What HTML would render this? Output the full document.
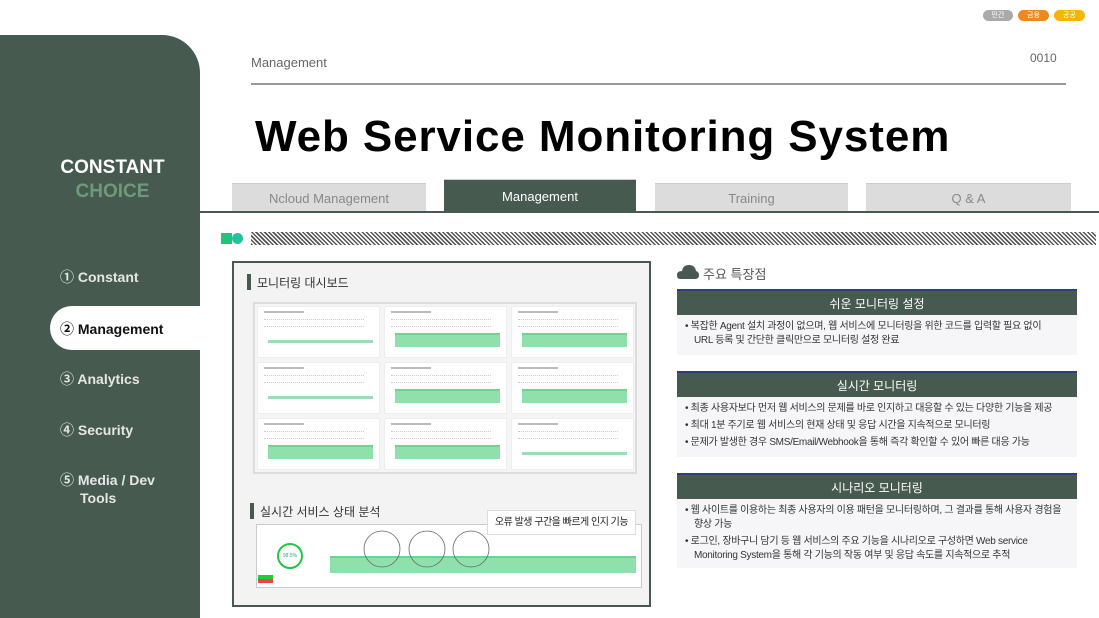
<!DOCTYPE html>
<html><head><meta charset="utf-8"><style>
*{margin:0;padding:0;box-sizing:border-box}
body{width:1099px;height:618px;position:relative;overflow:hidden;background:#fff;font-family:"Liberation Sans","Noto Sans CJK KR",sans-serif}
.a{position:absolute}
.side{left:0;top:35px;width:200px;height:583px;background:#465a50;border-top-right-radius:38px}
.nav{left:60px;color:#e6e6e6;font-size:14px;font-weight:bold}
.tab{top:183px;height:29px;background:#dcdcdc;color:#888;font-size:13px;text-align:center;line-height:30px;border-top:1px solid #ccc}
.hb{left:677px;width:400px;height:26px;background:#465a50;color:#fff;font-size:12px;text-align:center;line-height:26px;border-top:2px solid #2d3f7a}
.bd{left:677px;width:400px;background:#f6f6f9;font-size:10px;color:#333;padding:5px 4px 0 8px;line-height:14px;letter-spacing:-0.3px;white-space:nowrap}
.bd div{padding-left:9px;text-indent:-9px;margin-bottom:3px}
.card{background:#fff;width:123px;height:52px;border:1px solid #eee}
.ch{position:absolute;left:10px;right:6px;top:26px;height:14px;background:#8fe0ab;border-top:2px solid #6cd48e}
.ln{position:absolute;left:10px;right:6px;top:33px;height:3px;background:#9fdcb5}
.ct{position:absolute;left:6px;top:4px;width:40px;height:2px;background:#bbb}
.cr{position:absolute;left:6px;top:12px;width:100px;height:8px;border-top:1px dotted #ccc;border-bottom:1px dotted #ccc}
</style></head><body>
<div class="a" style="left:983px;top:10px;width:30px;height:11px;border-radius:6px;background:#aaa;color:#fff;font-size:7px;text-align:center;line-height:11px">민간</div>
<div class="a" style="left:1018px;top:10px;width:31px;height:11px;border-radius:6px;background:#ee8a1c;color:#fff;font-size:7px;text-align:center;line-height:11px">금융</div>
<div class="a" style="left:1054px;top:10px;width:31px;height:11px;border-radius:6px;background:#f7b500;color:#fff;font-size:7px;text-align:center;line-height:11px">공공</div>

<div class="a side"></div>
<div class="a" style="left:0;top:157px;width:225px;text-align:center;color:#fff;font-size:19px;font-weight:bold">CONSTANT</div>
<div class="a" style="left:0;top:181px;width:225px;text-align:center;color:#6f9a7a;font-size:19px;font-weight:bold">CHOICE</div>
<div class="a nav" style="top:267px">① Constant</div>
<div class="a" style="left:50px;top:306px;width:150px;height:44px;background:#fff;border-radius:22px 0 0 22px"></div>
<div class="a nav" style="top:319px;color:#111">② Management</div>
<div class="a nav" style="top:369px">③ Analytics</div>
<div class="a nav" style="top:420px">④ Security</div>
<div class="a nav" style="top:470px">⑤ Media / Dev<br><span style="padding-left:20px">Tools</span></div>

<div class="a" style="left:251px;top:55px;font-size:13px;color:#666">Management</div>
<div class="a" style="left:1030px;top:51px;font-size:12px;color:#666">0010</div>
<div class="a" style="left:251px;top:83px;width:815px;height:2px;background:#999"></div>
<div class="a" style="left:255px;top:112px;font-size:44px;font-weight:bold;color:#000;letter-spacing:0.9px;white-space:nowrap">Web Service Monitoring System</div>

<div class="a tab" style="left:232px;width:194px">Ncloud Management</div>
<div class="a tab" style="left:444px;width:192px;top:179px;height:33px;background:#465a50;color:#fff;line-height:33px">Management</div>
<div class="a tab" style="left:655px;width:193px">Training</div>
<div class="a tab" style="left:866px;width:205px">Q &amp; A</div>
<div class="a" style="left:200px;top:211px;width:899px;height:2px;background:#465a50"></div>

<div class="a" style="left:221px;top:233px;width:11px;height:11px;background:#22c47a"></div>
<div class="a" style="left:232px;top:233px;width:11px;height:11px;border-radius:50%;background:#22c4a0"></div>
<div class="a" style="left:251px;top:232px;width:845px;height:13px;background:repeating-linear-gradient(45deg,#555 0 1.5px,#fff 1.5px 3px)"></div>

<div class="a" style="left:232px;top:261px;width:419px;height:346px;border:2px solid #465a50;background:#f3f3f3"></div>
<div class="a" style="left:247px;top:274px;width:4px;height:16px;background:#465a50"></div>
<div class="a" style="left:257px;top:274px;font-size:12px;color:#333">모니터링 대시보드</div>
<div class="a" style="left:253px;top:302px;width:384px;height:172px;border:2px solid #ddd;background:#f5f5f5"></div>

<div class="a card" style="left:257px;top:306px"><div class="ct"></div><div class="cr"></div><div class="ln"></div></div>
<div class="a card" style="left:384px;top:306px"><div class="ct"></div><div class="cr"></div><div class="ch"></div></div>
<div class="a card" style="left:511px;top:306px"><div class="ct"></div><div class="cr"></div><div class="ch"></div></div>
<div class="a card" style="left:257px;top:362px"><div class="ct"></div><div class="cr"></div><div class="ln"></div></div>
<div class="a card" style="left:384px;top:362px"><div class="ct"></div><div class="cr"></div><div class="ch"></div></div>
<div class="a card" style="left:511px;top:362px"><div class="ct"></div><div class="cr"></div><div class="ch"></div></div>
<div class="a card" style="left:257px;top:418px"><div class="ct"></div><div class="cr"></div><div class="ch"></div></div>
<div class="a card" style="left:384px;top:418px"><div class="ct"></div><div class="cr"></div><div class="ch"></div></div>
<div class="a card" style="left:511px;top:418px"><div class="ct"></div><div class="cr"></div><div class="ln"></div></div>

<div class="a" style="left:250px;top:503px;width:4px;height:16px;background:#465a50"></div>
<div class="a" style="left:260px;top:503px;font-size:12px;color:#333">실시간 서비스 상태 분석</div>
<div class="a" style="left:256px;top:524px;width:386px;height:64px;border:1px solid #ccc;background:#fff"></div>
<div class="a" style="left:277px;top:543px;width:26px;height:26px;border-radius:50%;border:2px solid #22c44a;font-size:5px;color:#2a8;text-align:center;line-height:22px">98.5%</div>
<div class="a" style="left:258px;top:575px;width:15px;height:4px;background:#2c3"></div>
<div class="a" style="left:258px;top:579px;width:15px;height:4px;background:#e44"></div>
<div class="a" style="left:330px;top:556px;width:306px;height:17px;background:#8fe0ab;border-top:2px solid #6cd48e"></div>
<svg class="a" style="left:360px;top:528px" width="140" height="50"><g fill="none" stroke="#666" stroke-width="0.8"><circle cx="22" cy="21" r="18"/><circle cx="67" cy="21" r="18"/><circle cx="111" cy="21" r="18"/></g></svg>
<div class="a" style="left:487px;top:510px;width:149px;height:25px;background:#fff;border:1px solid #ddd;font-size:10px;color:#222;text-align:center;line-height:23px;letter-spacing:-0.5px">오류 발생 구간을 빠르게 인지 기능</div>

<svg class="a" style="left:677px;top:264px" width="22" height="16"><path d="M3 15 Q0 15 0 11 Q0 7 5 7 Q6 1 12 1 Q18 1 19 7 Q22 8 22 11 Q22 15 18 15Z" fill="#465a50"/></svg>
<div class="a" style="left:703px;top:264px;font-size:13px;color:#555">주요 특장점</div>

<div class="a hb" style="top:289px">쉬운 모니터링 설정</div>
<div class="a bd" style="top:315px;height:40px"><div>• 복잡한 Agent 설치 과정이 없으며, 웹 서비스에 모니터링을 위한 코드를 입력할 필요 없이<br>URL 등록 및 간단한 클릭만으로 모니터링 설정 완료</div></div>
<div class="a hb" style="top:371px">실시간 모니터링</div>
<div class="a bd" style="top:397px;height:60px"><div>• 최종 사용자보다 먼저 웹 서비스의 문제를 바로 인지하고 대응할 수 있는 다양한 기능을 제공</div><div>• 최대 1분 주기로 웹 서비스의 현재 상태 및 응답 시간을 지속적으로 모니터링</div><div>• 문제가 발생한 경우 SMS/Email/Webhook을 통해 즉각 확인할 수 있어 빠른 대응 가능</div></div>
<div class="a hb" style="top:473px">시나리오 모니터링</div>
<div class="a bd" style="top:499px;height:69px"><div>• 웹 사이트를 이용하는 최종 사용자의 이용 패턴을 모니터링하며, 그 결과를 통해 사용자 경험을<br>향상 가능</div><div>• 로그인, 장바구니 담기 등 웹 서비스의 주요 기능을 시나리오로 구성하면 Web service<br>Monitoring System을 통해 각 기능의 작동 여부 및 응답 속도를 지속적으로 추적</div></div>
</body></html>
